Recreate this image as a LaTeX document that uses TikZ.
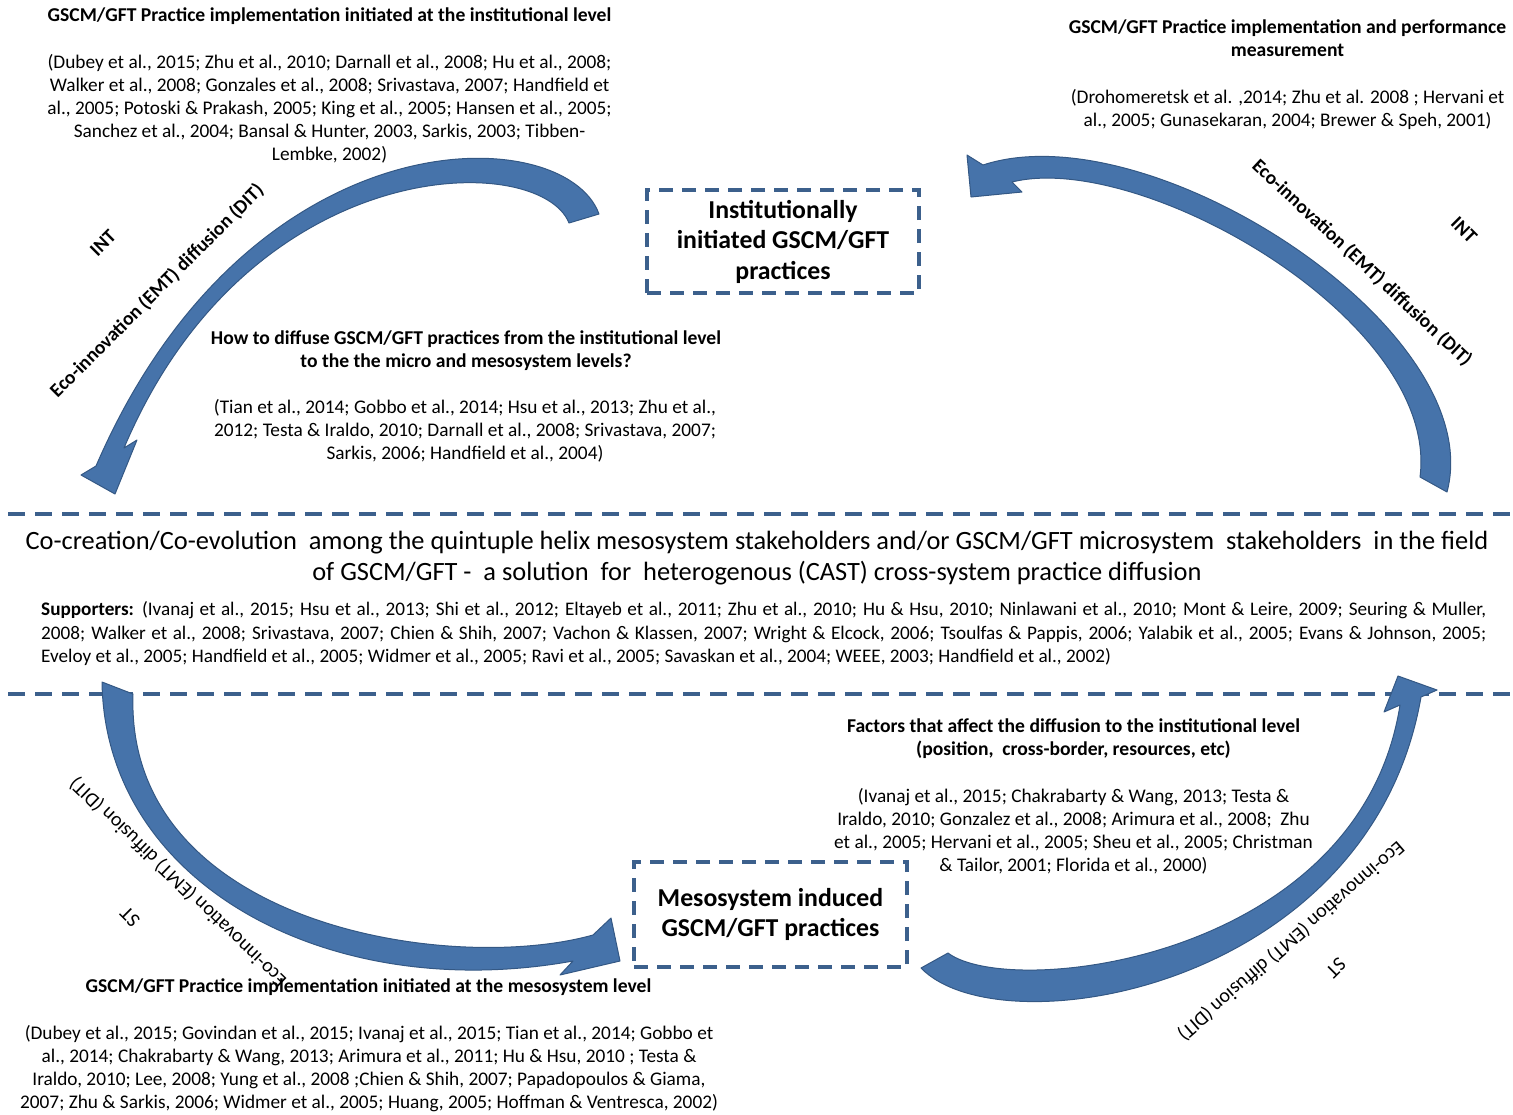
\documentclass[tikz,border=0pt]{standalone}
\usepackage{fontspec}
\setmainfont{Carlito}
\definecolor{dashblue}{RGB}{60,96,140}
\definecolor{arrowfill}{RGB}{70,115,170}
\definecolor{arrowedge}{RGB}{52,88,132}
\newcommand\citesize{\fontsize{19.3}{23.1}\selectfont}
\newcommand\headsize{\bfseries\fontsize{19.6}{23.1}\selectfont}
\tikzset{
  citeblock/.style={align=center, font=\citesize, inner sep=0pt, anchor=base},
  headblock/.style={align=center, font=\headsize, inner sep=0pt, anchor=base},
  practicebox/.style={draw=dashblue, line width=3.5pt, dash pattern=on 14pt off 9pt,
    align=center, font=\bfseries\fontsize{25.8}{30.5}\selectfont, inner sep=0pt},
  divider/.style={draw=dashblue, line width=4pt, dash pattern=on 17pt off 10pt},
  blockarrow/.style={fill=arrowfill, draw=arrowedge, line width=1pt, line join=round},
  turnlabel/.style={inner sep=0pt, font=\fontsize{20}{22}\selectfont},
  turnlabelbold/.style={inner sep=0pt, font=\bfseries\fontsize{19.5}{22}\selectfont},
}
\begin{document}
\begin{tikzpicture}[x=1pt,y=-1pt]
\useasboundingbox (0,0) rectangle (1513,1114);

% dividers between the institutional, stakeholder and mesosystem bands
\coordinate (divAw) at (8,514);  \coordinate (divAe) at (1513,514);
\coordinate (divBw) at (8,694);  \coordinate (divBe) at (1513,694);
\draw[divider] (divAw) -- (divAe);
\draw[divider] (divBw) -- (divBe);

% the two practice boxes
\node[practicebox, minimum width=272pt, minimum height=103pt] (inst) at (783,241.5)
  {Institutionally\\initiated GSCM/GFT\\practices};
\node[practicebox, minimum width=273pt, minimum height=105pt] (meso) at (770.5,914.5)
  {Mesosystem induced\\GSCM/GFT practices};

% top-left arrow: institutional level down to the stakeholders
\draw[blockarrow]
  (599,214) .. controls (565,120) and (250,110) .. (96,466)
  -- (81,475) -- (115,494) -- (137,440) -- (124,448)
  .. controls (250,150) and (540,150) .. (569,223) -- cycle;

% top-right arrow: stakeholders up to the institutional level
\draw[blockarrow]
  (1447,492) .. controls (1490,330) and (1150,110) .. (983,165)
  -- (967,155) -- (971,197) -- (1022,192) -- (1012,182)
  .. controls (1140,150) and (1440,320) .. (1420,477) -- cycle;

% bottom-left arrow: stakeholders down to the mesosystem practices
\draw[blockarrow]
  (102,682) .. controls (105,885) and (330,1005) .. (573,961)
  -- (560,975) -- (620,961) -- (611,918) -- (593,935)
  .. controls (450,975) and (125,925) .. (133,694) -- cycle;

% bottom-right arrow: mesosystem practices up to the stakeholders
\draw[blockarrow]
  (921,968) .. controls (1000,1050) and (1370,990) .. (1421,697)
  -- (1437,690) -- (1398,676) -- (1384,712) -- (1400,705)
  .. controls (1360,960) and (1010,1000) .. (948,953) -- cycle;

% rotated arrow labels
\node[turnlabelbold, rotate=45] (intA) at (103,243) {INT};
\node[turnlabelbold, rotate=45] (ditA) at (157,291) {Eco-innovation (EMT) diffusion (DIT)};
\node[turnlabelbold, rotate=-45] (intB) at (1464,230) {INT};
\node[turnlabelbold, rotate=-43] (ditB) at (1362,263) {Eco-innovation (EMT) diffusion (DIT)};
\node[turnlabel, rotate=135] (stC) at (130,917) {ST};
\node[turnlabel, rotate=136] (ditC) at (178,882) {Eco-innovation (EMT) diffusion (DIT)};
\node[turnlabel, rotate=-135] (stD) at (1336,968) {ST};
\node[turnlabel, rotate=-139] (ditD) at (1291,941) {Eco-innovation (EMT) diffusion (DIT)};

% top-left literature block
\node[headblock] (hInst) at (329.5,21.5)
  {GSCM/GFT Practice implementation initiated at the institutional level};
\node[citeblock] (cInst) at (329.5,160.5)
  {(Dubey et al., 2015; Zhu et al., 2010; Darnall et al., 2008; Hu et al., 2008;\\
   Walker et al., 2008; Gonzales et al., 2008; Srivastava, 2007; Handfield et\\
   al., 2005; Potoski \& Prakash, 2005; King et al., 2005; Hansen et al., 2005;\\
   Sanchez et al., 2004; Bansal \& Hunter, 2003, Sarkis, 2003; Tibben-\\
   Lembke, 2002)};

% top-right literature block
\node[headblock] (hPerf) at (1287.5,56.5)
  {GSCM/GFT Practice implementation and performance\\measurement};
\node[citeblock] (cPerf) at (1287.5,126.5)
  {(Drohomeretsk et al. ,2014; Zhu et al. 2008 ; Hervani et\\
   al., 2005; Gunasekaran, 2004; Brewer \& Speh, 2001)};

% diffusion question
\node[headblock] (hHow) at (466,367.5)
  {How to diffuse GSCM/GFT practices from the institutional level\\
   to the the micro and mesosystem levels?};
\node[citeblock] (cHow) at (465,459.5)
  {(Tian et al., 2014; Gobbo et al., 2014; Hsu et al., 2013; Zhu et al.,\\
   2012; Testa \& Iraldo, 2010; Darnall et al., 2008; Srivastava, 2007;\\
   Sarkis, 2006; Handfield et al., 2004)};

% central band
\node[inner sep=0pt, anchor=base, align=center, font=\fontsize{26.4}{31}\selectfont] (cocreate) at (757,580.5)
  {Co-creation/Co-evolution\ \ among the quintuple helix mesosystem stakeholders and/or GSCM/GFT microsystem\ \ stakeholders\ \ in the field\\
   of GSCM/GFT -\ \ a solution\ \ for\ \ heterogenous (CAST) cross-system practice diffusion};
\node[inner sep=0pt, anchor=base west, align=left, font=\fontsize{19.2}{23.3}\selectfont] (support) at (41,662.5)
  {\makebox[1445pt][s]{\textbf{Supporters:} (Ivanaj et al., 2015; Hsu et al., 2013; Shi et al., 2012; Eltayeb et al., 2011; Zhu et al., 2010; Hu \& Hsu, 2010; Ninlawani et al., 2010; Mont \& Leire, 2009; Seuring \& Muller,}\\
   \makebox[1445pt][s]{2008; Walker et al., 2008; Srivastava, 2007; Chien \& Shih, 2007; Vachon \& Klassen, 2007; Wright \& Elcock, 2006; Tsoulfas \& Pappis, 2006; Yalabik et al., 2005; Evans \& Johnson, 2005;}\\
   Eveloy et al., 2005; Handfield et al., 2005; Widmer et al., 2005; Ravi et al., 2005; Savaskan et al., 2004; WEEE, 2003; Handfield et al., 2002)};

% factors block
\node[headblock] (hFact) at (1073.5,755.5)
  {Factors that affect the diffusion to the institutional level\\
   (position,\ \ cross-border, resources, etc)};
\node[citeblock] (cFact) at (1073.5,871.5)
  {(Ivanaj et al., 2015; Chakrabarty \& Wang, 2013; Testa \&\\
   Iraldo, 2010; Gonzalez et al., 2008; Arimura et al., 2008;\ \ Zhu\\
   et al., 2005; Hervani et al., 2005; Sheu et al., 2005; Christman\\
   \& Tailor, 2001; Florida et al., 2000)};

% mesosystem literature block
\node[headblock] (hMeso) at (368.5,992.5)
  {GSCM/GFT Practice implementation initiated at the mesosystem level};
\node[citeblock] (cMeso) at (369,1108.5)
  {(Dubey et al., 2015; Govindan et al., 2015; Ivanaj et al., 2015; Tian et al., 2014; Gobbo et\\
   al., 2014; Chakrabarty \& Wang, 2013; Arimura et al., 2011; Hu \& Hsu, 2010 ; Testa \&\\
   Iraldo, 2010; Lee, 2008; Yung et al., 2008 ;Chien \& Shih, 2007; Papadopoulos \& Giama,\\
   2007; Zhu \& Sarkis, 2006; Widmer et al., 2005; Huang, 2005; Hoffman \& Ventresca, 2002)};
\end{tikzpicture}
\end{document}
